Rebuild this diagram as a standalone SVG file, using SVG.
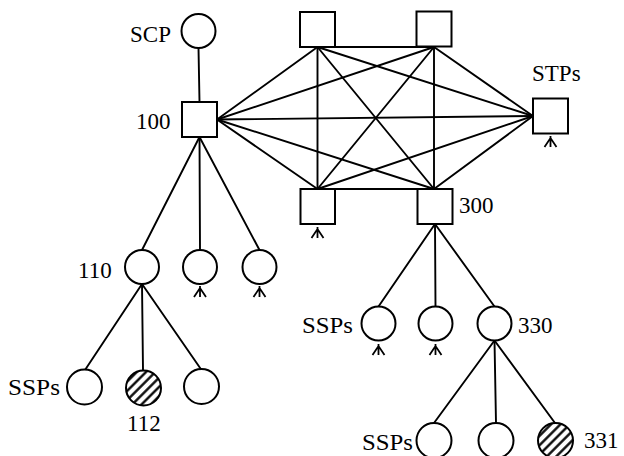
<svg xmlns="http://www.w3.org/2000/svg" xmlns:xlink="http://www.w3.org/1999/xlink" width="624" height="456" viewBox="0 0 624 456">
<style>
  .ln { stroke: #000; stroke-width: 1.9; fill: none; stroke-linecap: round; }
  .nd { stroke: #000; stroke-width: 2; fill: #fff; }
  .hz { stroke: #000; stroke-width: 2; fill: url(#hatch); }
  .tx { font-family: "Liberation Serif", "Times New Roman", serif; font-size: 23px; fill: #000; }
  .sp { stroke: #000; stroke-width: 1.8; fill: none; }
</style>
<defs>
  <pattern id="hatch" patternUnits="userSpaceOnUse" width="6.6" height="6.6" patternTransform="rotate(45)">
    <rect width="6.6" height="6.6" fill="#fff"/>
    <line x1="3.3" y1="0" x2="3.3" y2="6.6" stroke="#000" stroke-width="2.3"/>
  </pattern>
  <path id="spike" class="sp" d="M0,0 V11 M-6,11 L0,2 L6,11"/>
</defs>
<rect width="624" height="456" fill="#fff"/>

<g id="connectors">
  <!-- SCP to 100 -->
  <line class="ln" x1="198.5" y1="48" x2="199.5" y2="102"/>
  <!-- STP mesh (complete graph) -->
  <line class="ln" x1="217" y1="119.5" x2="317.5" y2="47"/>
  <line class="ln" x1="217" y1="119.5" x2="434" y2="47"/>
  <line class="ln" x1="217" y1="119.5" x2="533" y2="116"/>
  <line class="ln" x1="217" y1="119.5" x2="317.5" y2="189"/>
  <line class="ln" x1="217" y1="119.5" x2="434" y2="189"/>
  <line class="ln" x1="317.5" y1="47" x2="434" y2="47"/>
  <line class="ln" x1="317.5" y1="47" x2="533" y2="116"/>
  <line class="ln" x1="317.5" y1="47" x2="317.5" y2="189"/>
  <line class="ln" x1="317.5" y1="47" x2="434" y2="189"/>
  <line class="ln" x1="434" y1="47" x2="533" y2="116"/>
  <line class="ln" x1="434" y1="47" x2="317.5" y2="189"/>
  <line class="ln" x1="434" y1="47" x2="434" y2="189"/>
  <line class="ln" x1="533" y1="116" x2="317.5" y2="189"/>
  <line class="ln" x1="533" y1="116" x2="434" y2="189"/>
  <line class="ln" x1="317.5" y1="189" x2="434" y2="189"/>
  <!-- 100 to local exchanges -->
  <line class="ln" x1="199.5" y1="137" x2="142" y2="250"/>
  <line class="ln" x1="199.5" y1="137" x2="200" y2="250"/>
  <line class="ln" x1="199.5" y1="137" x2="259.5" y2="250"/>
  <!-- 110 to SSPs -->
  <line class="ln" x1="142" y1="284" x2="85" y2="370"/>
  <line class="ln" x1="142" y1="284" x2="143" y2="370"/>
  <line class="ln" x1="142" y1="284" x2="201.5" y2="370"/>
  <!-- 300 to exchanges -->
  <line class="ln" x1="435" y1="224" x2="378.5" y2="306.5"/>
  <line class="ln" x1="435" y1="224" x2="435.5" y2="306.5"/>
  <line class="ln" x1="435" y1="224" x2="494.5" y2="306.5"/>
  <!-- 330 to SSPs -->
  <line class="ln" x1="494.5" y1="340.5" x2="434" y2="423"/>
  <line class="ln" x1="494.5" y1="340.5" x2="496" y2="423"/>
  <line class="ln" x1="494.5" y1="340.5" x2="555" y2="423"/>
</g>

<g id="scp">
  <circle class="nd" cx="198.5" cy="31" r="17"/>
  <text class="tx" x="130" y="42">SCP</text>
</g>
<g id="stp-100">
  <rect class="nd" x="182" y="102" width="35" height="35"/>
  <text class="tx" x="136" y="129">100</text>
</g>
<g id="stp-top-left">
  <rect class="nd" x="300" y="12" width="35" height="35"/>
</g>
<g id="stp-top-right">
  <rect class="nd" x="416.5" y="11.5" width="35" height="35"/>
</g>
<g id="stp-right">
  <rect class="nd" x="533" y="98.5" width="35" height="35"/>
  <text class="tx" x="532" y="81">STPs</text>
  <use xlink:href="#spike" href="#spike" x="550.5" y="136"/>
</g>
<g id="stp-bottom-left">
  <rect class="nd" x="300.5" y="189" width="34.5" height="35"/>
  <use xlink:href="#spike" href="#spike" x="317.5" y="227"/>
</g>
<g id="stp-300">
  <rect class="nd" x="417.5" y="189" width="35" height="35"/>
  <text class="tx" x="459" y="213">300</text>
</g>

<g id="ex-110">
  <circle class="nd" cx="142" cy="267" r="17"/>
  <text class="tx" x="78" y="278">110</text>
</g>
<g id="ex-left-2">
  <circle class="nd" cx="200" cy="267" r="17"/>
  <use xlink:href="#spike" href="#spike" x="200" y="286"/>
</g>
<g id="ex-left-3">
  <circle class="nd" cx="259.5" cy="267" r="17"/>
  <use xlink:href="#spike" href="#spike" x="259.5" y="286"/>
</g>
<g id="ssp-left-1">
  <circle class="nd" cx="84.5" cy="387" r="17.5"/>
  <text class="tx" x="8" y="395" textLength="52" lengthAdjust="spacingAndGlyphs">SSPs</text>
</g>
<g id="ssp-112">
  <circle class="hz" cx="143.5" cy="388" r="17.5"/>
  <text class="tx" x="127" y="431">112</text>
</g>
<g id="ssp-left-3">
  <circle class="nd" cx="201.5" cy="386.5" r="17.5"/>
</g>

<g id="ex-right-1">
  <circle class="nd" cx="378.5" cy="323.5" r="17"/>
  <text class="tx" x="302" y="333" textLength="51" lengthAdjust="spacingAndGlyphs">SSPs</text>
  <use xlink:href="#spike" href="#spike" x="378.5" y="344"/>
</g>
<g id="ex-right-2">
  <circle class="nd" cx="435.5" cy="323.5" r="17"/>
  <use xlink:href="#spike" href="#spike" x="435.5" y="344"/>
</g>
<g id="ex-330">
  <circle class="nd" cx="494.5" cy="323.5" r="17"/>
  <text class="tx" x="518" y="333">330</text>
</g>
<g id="ssp-right-1">
  <circle class="nd" cx="434" cy="440.5" r="17.5"/>
  <text class="tx" x="362" y="450" textLength="51" lengthAdjust="spacingAndGlyphs">SSPs</text>
</g>
<g id="ssp-right-2">
  <circle class="nd" cx="496" cy="440.5" r="17.5"/>
</g>
<g id="ssp-331">
  <circle class="hz" cx="555.5" cy="440.5" r="17.5"/>
  <text class="tx" x="584" y="448">331</text>
</g>
</svg>
